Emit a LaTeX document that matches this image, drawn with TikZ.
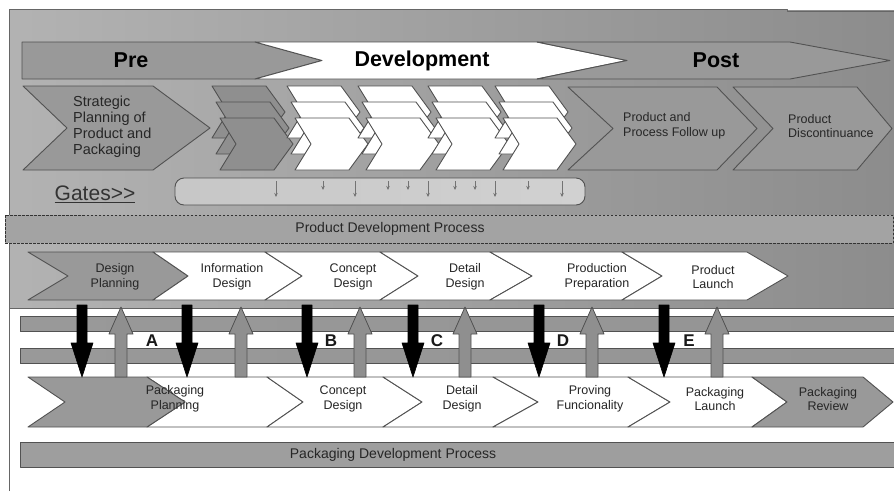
\documentclass[tikz,border=0pt]{standalone}
\usepackage{fontspec}
\setmainfont{Liberation Sans}
\usetikzlibrary{arrows.meta}
\definecolor{edgec}{gray}{0.32}
\definecolor{chgray}{gray}{0.60}
\definecolor{stackgray}{gray}{0.56}
\definecolor{pnlL}{gray}{0.70}
\definecolor{pnlM}{gray}{0.93}
\definecolor{pnlR}{gray}{0.55}
\definecolor{upgray}{gray}{0.56}
% chevron: [fill]{x0}{x1}{ytop}{ybot}{notch depth}{tip depth}
\newcommand\chevr[7][white]{%
  \draw[outl,fill=#1] ({#2},{#4}) -- ({#3},{#4}) -- ({#3+#7},{(#4+#5)/2}) -- ({#3},{#5}) -- ({#2},{#5}) -- ({#2+#6},{(#4+#5)/2}) -- cycle;}
\newcommand\stackchev[2]{%
  \foreach \k in {0,1,2}{\chevr[#2]{#1+4*\k}{#1+4*\k+54}{86+16*\k}{138+16*\k}{16}{19}}}
\begin{document}
\begin{tikzpicture}[x=1pt,y=-1pt,line join=round,
  outl/.style={draw=edgec,line width=0.9pt},
  lbl/.style={font=\fontsize{12.5}{14.5}\selectfont, align=center, text=black!85, inner sep=0pt},
  ttl/.style={font=\fontsize{21.5}{24}\selectfont\bfseries, text=black, inner sep=0pt},
  gatelbl/.style={font=\fontsize{17}{19}\selectfont\bfseries, text=black!90, inner sep=0pt},
  bandlbl/.style={font=\fontsize{14}{16}\selectfont, text=black!85, inner sep=0pt},
  gatearrow/.style={draw=black!55, line width=0.6pt, -{Stealth[length=4pt,width=3.5pt]}},
  downarr/.style={draw=black, fill=black, line width=0.6pt},
  uparr/.style={draw=edgec, fill=upgray, line width=0.8pt}]
\useasboundingbox (0,0) rectangle (894,491);
\fill[white] (0,0) rectangle (894,491);

% ---- upper grey panel
\shade[left color=pnlL, middle color=pnlM, right color=pnlR] (9,10) rectangle (894,308);
\draw[black!60, line width=1pt] (9,491) -- (9,9) -- (787,9) -- (787,11) -- (894,11);
\draw[black!60, line width=0.8pt] (9,308) -- (894,308);

% ---- Pre / Development / Post
\draw[outl, fill=chgray] (22,42) -- (255,42) -- (322,60.5) -- (255,79) -- (22,79) -- cycle;
\draw[outl, fill=white] (255,42) -- (537,42) -- (627,60.5) -- (537,79) -- (255,79) -- (322,60.5) -- cycle;
\draw[outl, fill=chgray] (537,42) -- (790,42) -- (890,60.5) -- (790,79) -- (537,79) -- (627,60.5) -- cycle;
\node[ttl] (pre) at (131,60.5) {Pre};
\node[ttl] (dev) at (422,60.5) {Development};
\node[ttl] (post) at (716,60.5) {Post};

% ---- second row
\chevr[chgray]{23}{153}{86}{170}{44}{57}
\node[lbl, align=left, font=\fontsize{14.5}{16}\selectfont, anchor=west] (strat) at (73,127) {Strategic\\Planning of\\Product and\\Packaging};
\stackchev{212}{stackgray}
\stackchev{287}{white}
\stackchev{358}{white}
\stackchev{428}{white}
\stackchev{495}{white}
\chevr[chgray]{568}{717}{87}{170}{45}{40}
\chevr[chgray]{733}{857}{87}{170}{40}{35}
\node[lbl, align=left, anchor=west] (follow) at (623,126) {Product and\\Process Follow up};
\node[lbl, align=left, anchor=west] (discont) at (788,126) {Product\\Discontinuance};

% ---- gates
\node[font=\fontsize{21}{24}\selectfont, text=black!80, inner sep=0pt] (gates) at (95,194) {\underline{Gates>\kern0pt>}};
\shade[left color=black!22, middle color=black!8, right color=black!18, rounded corners=9] (175,178) rectangle (585,205);
\draw[edgec, line width=0.9pt, rounded corners=9] (175,178) rectangle (585,205);
\foreach \gx in {276,355,428,495,562} {\draw[gatearrow] (\gx,181) -- (\gx,197);}
\foreach \gx in {323,388,408,455,475,528} {\draw[gatearrow] (\gx,181) -- (\gx,190);}

% ---- product development band
\draw[black!80, line width=0.8pt, dash pattern=on 2.5pt off 1.5pt, fill=black!36] (5,215) rectangle (893,243);
\node[bandlbl] (pdp) at (390,228.5) {Product Development Process};

% ---- product row
\chevr[chgray]{28}{153}{252}{300}{40}{35}
\chevr{153}{265}{252}{300}{35}{37}
\chevr{265}{380}{252}{300}{37}{38}
\chevr{380}{490}{252}{300}{38}{42}
\chevr{490}{622}{252}{300}{42}{40}
\chevr{622}{747}{252}{300}{40}{41}
\node[lbl] (dp) at (115,277) {Design\\Planning};
\node[lbl] (infd) at (232,277) {Information\\Design};
\node[lbl] (cd1) at (353,277) {Concept\\Design};
\node[lbl] (dd1) at (465,277) {Detail\\Design};
\node[lbl] (pprep) at (597,277) {Production\\Preparation};
\node[lbl] (plaunch) at (713,277) {Product\\Launch};

% ---- horizontal bars
\shade[left color=black!40, middle color=black!14, right color=black!42] (20,316) rectangle (894,331);
\draw[edgec, line width=0.8pt] (894,316) -- (20,316) -- (20,331) -- (894,331);
\shade[left color=black!40, middle color=black!14, right color=black!42] (20,348) rectangle (894,363);
\draw[edgec, line width=0.8pt] (894,348) -- (20,348) -- (20,363) -- (894,363);

% ---- packaging row
\chevr{147}{267}{377}{427}{38}{36}
\chevr[chgray]{28}{147}{377}{427}{37}{38}
\chevr{267}{383}{377}{427}{36}{39}
\chevr{383}{493}{377}{427}{39}{45}
\chevr{493}{628}{377}{427}{45}{42}
\chevr{628}{752}{377}{427}{42}{35}
\chevr[chgray]{752}{863}{377}{427}{35}{30}
\node[lbl] (ppl) at (175,399) {Packaging\\Planning};
\node[lbl] (cd2) at (343,399) {Concept\\Design};
\node[lbl] (dd2) at (462,399) {Detail\\Design};
\node[lbl] (prov) at (590,399) {Proving\\Funcionality};
\node[lbl] (plaun) at (715,399) {Packaging\\Launch};
\node[lbl] (prev) at (828,399) {Packaging\\Review};

% ---- arrows between processes
\foreach \c in {82,187,307,413,539,664} {
  \draw[downarr] (\c-5,305) -- (\c-5,343) -- (\c-11,343) -- (\c,377) -- (\c+11,343) -- (\c+5,343) -- (\c+5,305) -- cycle;}
\foreach \c in {121,241,360,465,592,717} {
  \draw[uparr] (\c-6,377) -- (\c-6,334) -- (\c-12,334) -- (\c,307) -- (\c+12,334) -- (\c+6,334) -- (\c+6,377) -- cycle;}
\node[gatelbl] (la) at (152,341) {A};
\node[gatelbl] (lb) at (331,341) {B};
\node[gatelbl] (lc) at (437,341) {C};
\node[gatelbl] (ld) at (563,341) {D};
\node[gatelbl] (le) at (689,341) {E};

% ---- packaging development bar
\draw[edgec, line width=0.9pt, fill=black!38] (20,442) rectangle (894,467);
\node[bandlbl] (packdp) at (393,455) {Packaging Development Process};
\end{tikzpicture}
\end{document}
